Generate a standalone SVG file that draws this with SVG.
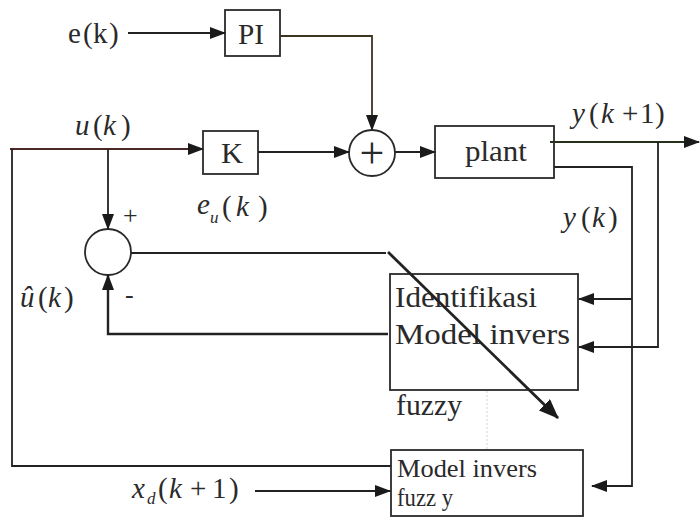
<svg xmlns="http://www.w3.org/2000/svg" width="700" height="518" viewBox="0 0 700 518">
  <defs>
    <marker id="ah" markerUnits="userSpaceOnUse" markerWidth="16" markerHeight="12" viewBox="0 0 16 12" refX="15" refY="6" orient="auto">
      <path d="M0,0 L16,6 L0,12 Z" fill="#1a1a1a"/>
    </marker>
    <marker id="ahb" markerUnits="userSpaceOnUse" markerWidth="20" markerHeight="16" viewBox="0 0 20 16" refX="19" refY="8" orient="auto">
      <path d="M0,0 L20,8 L0,16 Z" fill="#1a1a1a"/>
    </marker>
  </defs>
  <style>
    .box { fill: #ffffff; stroke: #2a2a2a; stroke-width: 1.8; }
    .sum { fill: #ffffff; stroke: #2a2a2a; stroke-width: 1.8; }
    .ln { fill: none; stroke: #222222; stroke-width: 1.8; }
    .arr { marker-end: url(#ah); }
    .t { font-family: "Liberation Serif", "Times New Roman", serif; fill: #2a2a2a; }
    .m { font-family: "Liberation Serif", "Times New Roman", serif; font-style: italic; fill: #2a2a2a; font-size: 29px; }
    .up { font-style: normal; }
    .sub { font-size: 17px; }
  </style>
  <rect width="700" height="518" fill="#ffffff"/>

  <g id="input-e">
    <text class="t" y="43" font-size="29"><tspan x="68">e</tspan><tspan x="83">(</tspan><tspan x="93">k</tspan><tspan x="109">)</tspan></text>
  </g>

  <g id="PI">
    <rect class="box" x="225" y="10" width="55" height="46"/>
    <text class="t" x="238" y="44" font-size="30" textLength="26" lengthAdjust="spacingAndGlyphs">PI</text>
  </g>

  <g id="K">
    <rect class="box" x="203" y="131" width="55" height="43"/>
    <text class="t" x="221" y="163" font-size="30" textLength="22" lengthAdjust="spacingAndGlyphs">K</text>
  </g>

  <g id="sum1">
    <circle class="sum" cx="372" cy="153" r="23"/>
    <text class="t" x="372" y="168" font-size="44" text-anchor="middle">+</text>
  </g>

  <g id="plant">
    <rect class="box" x="435" y="126" width="119" height="52"/>
    <text class="t" x="465" y="161" font-size="30" textLength="62" lengthAdjust="spacingAndGlyphs">plant</text>
  </g>

  <g id="sum2">
    <circle class="sum" cx="108" cy="252" r="23"/>
  </g>

  <g id="identifikasi">
    <rect class="box" x="390" y="274" width="188" height="116"/>
    <text class="t" x="395" y="307" font-size="30" textLength="142" lengthAdjust="spacingAndGlyphs">Identifikasi</text>
    <text class="t" x="395" y="344" font-size="30" textLength="175" lengthAdjust="spacingAndGlyphs">Model  invers</text>
    <text class="t" x="396" y="415" font-size="30" textLength="66" lengthAdjust="spacingAndGlyphs">fuzzy</text>
  </g>

  <g id="model-invers">
    <rect class="box" x="391" y="450" width="192" height="66"/>
    <text class="t" x="397" y="477" font-size="26" textLength="140" lengthAdjust="spacingAndGlyphs">Model invers</text>
    <text class="t" x="397" y="506" font-size="26" textLength="56" lengthAdjust="spacingAndGlyphs">fuzz y</text>
  </g>

  <g id="labels">
    <text class="m" y="135"><tspan x="75">u</tspan><tspan class="up" x="93">(</tspan><tspan x="103">k</tspan><tspan class="up" x="121">)</tspan></text>
    <text class="m" y="123"><tspan x="572">y</tspan><tspan class="up" x="589">(</tspan><tspan x="601">k</tspan><tspan class="up" x="622">+</tspan><tspan class="up" x="640">1</tspan><tspan class="up" x="655">)</tspan></text>
    <text class="m" y="227"><tspan x="563">y</tspan><tspan class="up" x="581">(</tspan><tspan x="592">k</tspan><tspan class="up" x="608">)</tspan></text>
    <text class="m" y="214"><tspan x="197">e</tspan><tspan class="sub" x="210" y="223">u</tspan><tspan class="up" x="222" y="216">(</tspan><tspan x="236">k</tspan><tspan class="up" x="258">)</tspan></text>
    <text class="t" x="123" y="224" font-size="26">+</text>
    <text class="m" y="307"><tspan x="20">û</tspan><tspan class="up" x="38">(</tspan><tspan x="48">k</tspan><tspan class="up" x="64">)</tspan></text>
    <text class="t" x="125" y="303" font-size="26">-</text>
    <text class="m" y="498"><tspan x="132">x</tspan><tspan class="sub" x="147" y="504">d</tspan><tspan class="up" x="158" y="498">(</tspan><tspan x="169">k</tspan><tspan class="up" x="190">+</tspan><tspan class="up" x="212">1</tspan><tspan class="up" x="229">)</tspan></text>
  </g>

  <g id="connectors">
    <path class="ln arr" d="M128,33 L225,33"/>
    <path class="ln arr" d="M280,36 L372,36 L372,130" style="stroke:#3a3520"/>
    <path class="ln arr" d="M10,149 L203,149" style="stroke:#4a2828"/>
    <path class="ln arr" d="M258,152 L349,152"/>
    <path class="ln arr" d="M395,152 L435,152"/>
    <path class="ln arr" d="M550,142 L699,142" style="stroke:#26301a"/>
    <path class="ln arr" d="M658,142 L658,347 L579,347"/>
    <path class="ln arr" d="M554,167 L632,167 L632,486 L592,486"/>
    <path class="ln arr" d="M632,299 L579,299"/>
    <path class="ln arr" d="M108,149 L108,229"/>
    <path class="ln" d="M131,253 L386,253"/>
    <path class="ln arr" d="M388,334 L108,334 L108,275" style="stroke-width:2.4"/>
    <path class="ln" d="M12,149 L12,466 L391,466"/>
    <path class="ln arr" d="M255,491 L390,491"/>
    <path class="ln" d="M388,252 L558,418" style="stroke-width:2.8;marker-end:url(#ahb)"/>
    <path d="M487,391 L487,450" fill="none" stroke="#d0d0d0" stroke-width="1" stroke-dasharray="2,2"/>
  </g>
</svg>
